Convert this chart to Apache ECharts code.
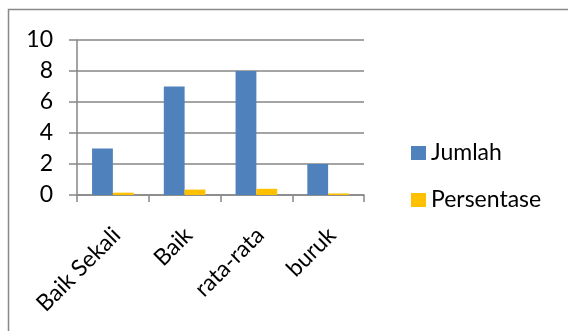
<!DOCTYPE html>
<html>
<head>
<meta charset="utf-8">
<script src="https://cdn.jsdelivr.net/npm/echarts@6/dist/echarts.min.js"></script>
<style>
html,body{margin:0;padding:0;background:#fff;}
#c{width:568px;height:331px;}
</style>
</head>
<body>
<div id="c"></div>
<script>
const categories = ['Baik Sekali', 'Baik', 'rata-rata', 'buruk'];
const jumlah = [3, 7, 8, 2];
const persentase = [0.15, 0.35, 0.4, 0.1];
const yTicks = [0, 2, 4, 6, 8, 10];

const FONT = 'Lato';
const chart = echarts.init(document.getElementById('c'), null, {renderer: 'canvas'});
chart.setOption({
  animation: false,
  textStyle: {fontFamily: FONT},
  graphic: [{
    type: 'rect',
    shape: {x: 8.5, y: 9.5, width: 620, height: 400},
    style: {fill: 'none', stroke: '#898989', lineWidth: 1.5},
    silent: true
  }],
  grid: {left: 77, right: 204, top: 40, bottom: 136},
  legend: {
    orient: 'vertical',
    left: 406, top: 136,
    itemWidth: 15, itemHeight: 14, itemGap: 23,
    icon: 'rect',
    textStyle: {fontSize: 23, color: '#000', fontFamily: FONT, lineHeight: 24},
    data: ['Jumlah', 'Persentase']
  },
  xAxis: {
    type: 'category',
    data: categories,
    boundaryGap: true,
    axisLine: {lineStyle: {color: '#868686', width: 1.5}},
    axisTick: {show: true, length: 7, lineStyle: {color: '#868686', width: 1.5}},
    axisLabel: {rotate: 45, fontSize: 23, color: '#000', fontFamily: FONT, margin: 24, verticalAlign: 'top', padding: [0, 6, 0, 0], interval: 0}
  },
  yAxis: {
    type: 'value',
    min: yTicks[0], max: yTicks[yTicks.length - 1], interval: 2,
    axisLine: {show: true, lineStyle: {color: '#868686', width: 1.5}},
    axisTick: {show: true, length: 8, lineStyle: {color: '#868686', width: 1.5}},
    splitLine: {show: true, lineStyle: {color: '#868686', width: 1.5}},
    axisLabel: {fontSize: 23, color: '#000', fontFamily: FONT, margin: 24}
  },
  series: [
    {name: 'Jumlah', type: 'bar', data: jumlah, itemStyle: {color: '#4F81BD'}, barGap: '0%', barCategoryGap: '42%'},
    {name: 'Persentase', type: 'bar', data: persentase, itemStyle: {color: '#FFC000'}}
  ]
});
</script>
</body>
</html>
